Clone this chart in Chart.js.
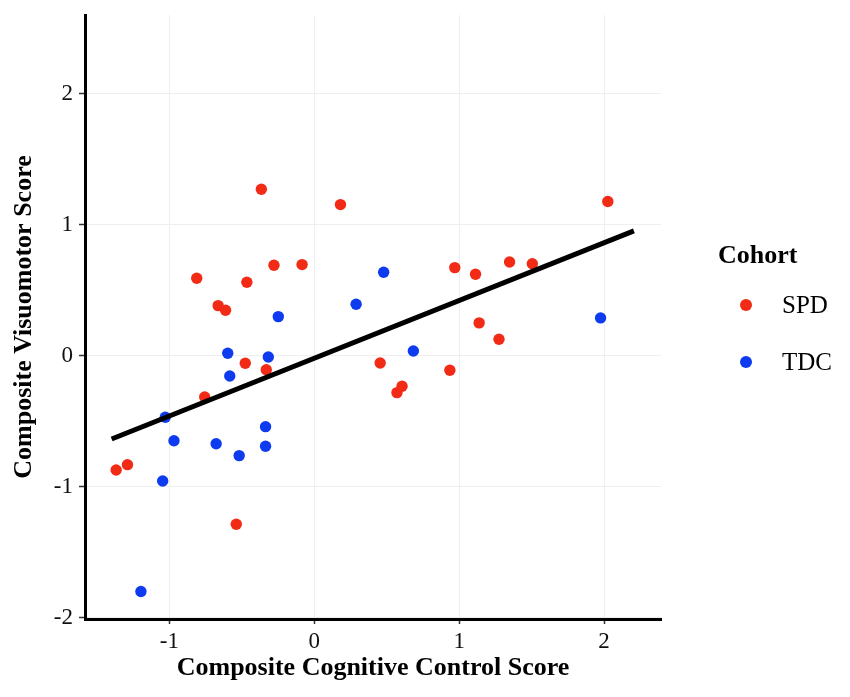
<!DOCTYPE html>
<html>
<head>
<meta charset="utf-8">
<script src="https://cdn.jsdelivr.net/npm/chart.js@4.4.1/dist/chart.umd.min.js"></script>
<style>
  html, body { margin: 0; padding: 0; background: #ffffff; }
  #wrap { width: 850px; height: 697px; }
</style>
</head>
<body>
<div id="wrap"><canvas id="c" width="850" height="697"></canvas></div>
<script>
// ---- data ----
const seriesNames = ["SPD", "TDC"];
const spdX = [-0.365, 0.181, -0.811, -0.465, -0.278, -0.084, -0.663, -0.612, -0.476, -0.331, -0.756, -1.367, -1.289, -0.538, 0.455, 0.571, 0.606, 2.026, 0.970, 1.113, 1.348, 1.505, 1.138, 1.275, 0.936];
const spdY = [1.270, 1.153, 0.591, 0.560, 0.690, 0.695, 0.382, 0.347, -0.058, -0.107, -0.315, -0.873, -0.832, -1.287, -0.056, -0.282, -0.234, 1.176, 0.672, 0.621, 0.715, 0.702, 0.250, 0.125, -0.112];
const tdcX = [0.479, 0.289, -0.248, -0.597, -0.317, -0.583, 0.684, -1.028, -0.968, -0.677, -0.518, -0.336, -0.336, -1.046, -1.196, 1.976];
const tdcY = [0.637, 0.392, 0.298, 0.018, -0.010, -0.155, 0.036, -0.470, -0.649, -0.672, -0.763, -0.542, -0.692, -0.957, -1.800, 0.288];
const fitX = [-1.398, 2.206];
const fitY = [-0.636, 0.952];
const xTicks = [-1, 0, 1, 2];
const yTicks = [-2, -1, 0, 1, 2];
const xTitle = "Composite Cognitive Control Score";
const yTitle = "Composite Visuomotor Score";
const legendTitle = "Cohort";

const RED = "#F22B16";
const BLUE = "#0E3BF0";
const SERIF = "'Liberation Serif', 'Times New Roman', serif";

const toPts = (xs, ys) => xs.map((x, i) => ({ x: x, y: ys[i] }));

const legendPlugin = {
  id: 'cohortLegend',
  afterDraw(chart) {
    const ctx = chart.ctx;
    const left = chart.chartArea.right;
    ctx.save();
    ctx.fillStyle = '#000';
    ctx.font = "bold 26px " + SERIF;
    ctx.textAlign = 'left';
    ctx.textBaseline = 'alphabetic';
    ctx.fillText(legendTitle, left + 57, 263);
    const items = chart.data.datasets.filter(d => d.isCohort);
    items.forEach((d, i) => {
      const cy = 305 + i * 57;
      ctx.beginPath();
      ctx.fillStyle = d.backgroundColor;
      ctx.arc(left + 85, cy, 6, 0, Math.PI * 2);
      ctx.fill();
      ctx.fillStyle = '#000';
      ctx.font = "25px " + SERIF;
      ctx.textBaseline = 'middle';
      ctx.fillText(d.label, left + 121, cy + 1);
    });
    ctx.restore();
  }
};

const tickSetter = (arr) => (scale) => { scale.ticks = arr.map(v => ({ value: v })); };

new Chart(document.getElementById('c'), {
  type: 'scatter',
  data: {
    datasets: [
      {
        label: 'fit',
        data: toPts(fitX, fitY),
        showLine: true,
        borderColor: '#000',
        borderWidth: 5,
        borderCapStyle: 'butt',
        pointRadius: 0,
        pointHoverRadius: 0,
        fill: false,
        order: 0
      },
      {
        label: seriesNames[0],
        isCohort: true,
        data: toPts(spdX, spdY),
        backgroundColor: RED,
        borderColor: RED,
        pointRadius: 5.7,
        pointBorderWidth: 0,
        order: 1
      },
      {
        label: seriesNames[1],
        isCohort: true,
        data: toPts(tdcX, tdcY),
        backgroundColor: BLUE,
        borderColor: BLUE,
        pointRadius: 5.7,
        pointBorderWidth: 0,
        order: 2
      }
    ]
  },
  options: {
    responsive: false,
    animation: false,
    devicePixelRatio: 1,
    layout: { padding: { left: 0, right: 189, top: 15, bottom: 0 } },
    plugins: { legend: { display: false }, tooltip: { enabled: false } },
    scales: {
      x: {
        type: 'linear',
        min: -1.582,
        max: 2.393,
        afterBuildTicks: tickSetter(xTicks),
        afterFit(scale) { scale.height = 78; scale.paddingLeft = 0; scale.paddingRight = 0; },
        grid: { color: '#EFEFEF', lineWidth: 1, tickColor: '#333', tickWidth: 1.5, tickLength: 5 },
        border: { color: '#000', width: 3 },
        ticks: { color: '#111', font: { family: SERIF, size: 23 }, padding: 4 },
        title: { display: true, text: xTitle, color: '#000', font: { family: SERIF, size: 26, weight: 'bold' }, padding: { top: 0, bottom: 13 } }
      },
      y: {
        type: 'linear',
        min: -2.01,
        max: 2.60,
        afterBuildTicks: tickSetter(yTicks),
        afterFit(scale) { scale.width = 85; scale.paddingTop = 0; scale.paddingBottom = 0; },
        grid: { color: '#EFEFEF', lineWidth: 1, tickColor: '#333', tickWidth: 1.5, tickLength: 6 },
        border: { color: '#000', width: 3 },
        ticks: { color: '#111', font: { family: SERIF, size: 23 }, padding: 6 },
        title: { display: true, text: yTitle, color: '#000', font: { family: SERIF, size: 26, weight: 'bold' }, padding: { top: 9, bottom: 0 } }
      }
    }
  },
  plugins: [legendPlugin]
});
</script>
</body>
</html>
